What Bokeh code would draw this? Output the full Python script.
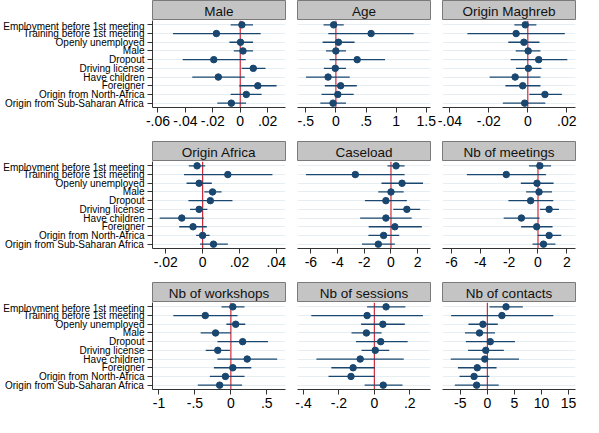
from bokeh.plotting import figure
from bokeh.models import Range1d, FactorRange, Span, FixedTicker
from bokeh.core.properties import value
from bokeh.layouts import row, column
from bokeh.embed import file_html
from bokeh.resources import INLINE

variables = ["Employment before 1st meeting", "Training before 1st meeting", "Openly unemployed",
             "Male", "Dropout", "Driving license", "Have children", "Foreigner",
             "Origin from North-Africa", "Origin from Sub-Saharan Africa"]

titles = ["Male", "Age", "Origin Maghreb", "Origin Africa", "Caseload", "Nb of meetings",
          "Nb of workshops", "Nb of sessions", "Nb of contacts"]

# point estimates and confidence bounds, one list per panel
male_coef = [0.0012, -0.0174, 0.0002, 0.0020, -0.0193, 0.0095, -0.0160, 0.0128, 0.0044, -0.0065]
male_lo   = [-0.0070, -0.0490, -0.0079, -0.0047, -0.0420, 0.0010, -0.0350, -0.0007, -0.0070, -0.0167]
male_hi   = [0.0093, 0.0149, 0.0093, 0.0093, 0.0040, 0.0184, 0.0033, 0.0265, 0.0156, 0.0042]

age_coef = [-0.037, 0.584, 0.042, 0.000, 0.353, -0.010, -0.130, 0.079, 0.032, -0.047]
age_lo   = [-0.205, -0.126, -0.220, -0.163, -0.105, -0.200, -0.495, -0.184, -0.237, -0.258]
age_hi   = [0.130, 1.290, 0.310, 0.168, 0.816, 0.168, 0.230, 0.347, 0.295, 0.168]

maghreb_coef = [-0.0013, -0.0060, -0.0020, 0.0002, 0.0056, 0.0003, -0.0065, -0.0026, 0.0088, -0.0016]
maghreb_lo   = [-0.0069, -0.0310, -0.0100, -0.0062, -0.0088, -0.0060, -0.0196, -0.0115, 0.0008, -0.0128]
maghreb_hi   = [0.0044, 0.0190, 0.0060, 0.0065, 0.0203, 0.0070, 0.0065, 0.0065, 0.0175, 0.0090]

africa_coef = [-0.0030, 0.0137, -0.0019, 0.0054, 0.0042, -0.0019, -0.0113, -0.0052, 0.0000, 0.0059]
africa_lo   = [-0.0075, -0.0101, -0.0087, 0.0009, -0.0077, -0.0068, -0.0233, -0.0127, -0.0035, -0.0014]
africa_hi   = [0.0014, 0.0379, 0.0050, 0.0103, 0.0162, 0.0026, 0.0007, 0.0023, 0.0038, 0.0137]

caseload_coef = [0.38, -2.67, 0.83, 0.00, -0.38, 1.19, -0.38, 0.29, -0.55, -0.95]
caseload_lo   = [-0.26, -6.36, -0.71, -0.95, -1.95, 0.17, -2.31, -1.67, -1.69, -2.17]
caseload_hi   = [1.02, 1.02, 2.40, 0.95, 1.19, 2.19, 1.55, 2.31, 0.62, 0.29]

meetings_coef = [0.13, -2.20, -0.07, 0.07, -0.51, 0.77, -1.15, -0.09, 0.77, 0.38]
meetings_lo   = [-0.62, -4.93, -1.19, -0.82, -2.05, 0.13, -2.38, -1.17, -0.02, -0.38]
meetings_hi   = [0.90, 0.55, 1.08, 0.97, 1.06, 1.45, 0.11, 1.01, 1.61, 1.21]

workshops_coef = [0.027, -0.356, 0.067, -0.213, 0.164, -0.182, 0.227, 0.027, -0.076, -0.156]
workshops_lo   = [-0.130, -0.800, -0.062, -0.420, -0.187, -0.350, -0.187, -0.236, -0.293, -0.460]
workshops_hi   = [0.190, 0.093, 0.200, 0.000, 0.516, -0.013, 0.644, 0.284, 0.190, 0.156]

sessions_coef = [0.066, -0.041, 0.048, -0.045, 0.036, 0.005, -0.080, -0.120, -0.132, 0.050]
sessions_lo   = [-0.041, -0.356, -0.075, -0.129, -0.104, -0.072, -0.327, -0.243, -0.259, -0.055]
sessions_hi   = [0.175, 0.274, 0.172, 0.041, 0.188, 0.084, 0.166, 0.002, 0.002, 0.159]

contacts_coef = [3.45, 2.69, -0.82, -1.46, 0.53, -0.29, -0.47, -1.87, -2.46, -1.99]
contacts_lo   = [0.41, -6.70, -3.50, -4.15, -3.98, -3.57, -6.78, -5.44, -5.15, -6.02]
contacts_hi   = [6.55, 12.20, 1.93, 1.40, 5.09, 3.04, 5.85, 1.70, 0.35, 2.10]

# axis extents and ticks
x_limits = [(-0.064, 0.033), (-0.637, 1.57), (-0.0438, 0.0245),
            (-0.0272, 0.045), (-7.0, 2.96), (-6.62, 2.6),
            (-1.09, 0.76), (-0.434, 0.317), (-8.3, 16.3)]
tick_values = [[-0.06, -0.04, -0.02, 0, 0.02], [-0.5, 0, 0.5, 1, 1.5], [-0.04, -0.02, 0, 0.02],
               [-0.02, 0, 0.02, 0.04], [-6, -4, -2, 0, 2], [-6, -4, -2, 0, 2],
               [-1, -0.5, 0, 0.5], [-0.4, -0.2, 0, 0.2], [-5, 0, 5, 10, 15]]
tick_labels = [["-.06", "-.04", "-.02", "0", ".02"], ["-.5", "0", ".5", "1", "1.5"], ["-.04", "-.02", "0", ".02"],
               ["-.02", "0", ".02", ".04"], ["-6", "-4", "-2", "0", "2"], ["-6", "-4", "-2", "0", "2"],
               ["-1", "-.5", "0", ".5"], ["-.4", "-.2", "0", ".2"], ["-5", "0", "5", "10", "15"]]

panels = [(male_coef, male_lo, male_hi), (age_coef, age_lo, age_hi), (maghreb_coef, maghreb_lo, maghreb_hi),
          (africa_coef, africa_lo, africa_hi), (caseload_coef, caseload_lo, caseload_hi),
          (meetings_coef, meetings_lo, meetings_hi), (workshops_coef, workshops_lo, workshops_hi),
          (sessions_coef, sessions_lo, sessions_hi), (contacts_coef, contacts_lo, contacts_hi)]

FONT = "Liberation Sans"
NAVY = "#1a476f"
RED = "#d02a3a"
GRID = "#e6eef1"

FRAME_W = 133
FRAME_H = 87
STRIP_H = 20
LEFT_LABELS = 152
SIDE = 6


def make_strip(title, ml, mr):
    s = figure(width=ml + FRAME_W + mr, height=STRIP_H, x_range=Range1d(0, 1), y_range=Range1d(0, 1),
               toolbar_location=None, output_backend="svg", x_axis_location=None, y_axis_location=None,
               min_border_left=ml, min_border_right=mr, min_border_top=0, min_border_bottom=0,
               background_fill_color="#c4c4c4", border_fill_color="white",
               outline_line_color="#7a7a7a", outline_line_width=1)
    s.grid.visible = False
    s.text(x=[0.5], y=[0.45], text=[title], text_align="center", text_baseline="middle",
           text_font=value(FONT), text_font_size="13.5px", text_font_style="normal",
           text_color="#111111")
    return s


def make_panel(i):
    r, c = divmod(i, 3)
    ml = LEFT_LABELS if c == 0 else SIDE
    mr = SIDE
    mb = 34 if r < 2 else 26
    coef, lo, hi = panels[i]
    x0, x1 = x_limits[i]
    p = figure(width=ml + FRAME_W + mr, height=FRAME_H + mb,
               x_range=Range1d(x0, x1), y_range=FactorRange(factors=list(reversed(variables))),
               toolbar_location=None, output_backend="svg",
               y_axis_location="left" if c == 0 else None,
               min_border_left=ml, min_border_right=mr, min_border_top=0, min_border_bottom=mb,
               outline_line_color=None, background_fill_color="white", border_fill_color="white")
    p.xgrid.visible = False
    p.ygrid.grid_line_color = GRID
    p.ygrid.grid_line_width = 1
    p.add_layout(Span(location=0, dimension="height", line_color=RED, line_width=1.2, level="underlay"))
    p.segment(x0=lo, y0=variables, x1=hi, y1=variables, line_color=NAVY, line_width=1.3)
    p.scatter(x=coef, y=variables, size=6.5, fill_color=NAVY, line_color=NAVY)

    xa = p.xaxis[0]
    xa.ticker = FixedTicker(ticks=tick_values[i])
    xa.major_label_overrides = {v: l for v, l in zip(tick_values[i], tick_labels[i])}
    xa.major_tick_out = 5
    xa.major_tick_in = 0
    xa.minor_tick_line_color = None
    xa.axis_line_color = "#333333"
    xa.major_tick_line_color = "#333333"
    xa.major_label_text_font = FONT
    xa.major_label_text_font_size = "14px"
    xa.major_label_text_color = "black"
    xa.major_label_standoff = 3

    if c == 0:
        ya = p.yaxis[0]
        ya.major_tick_out = 5
        ya.major_tick_in = 0
        ya.axis_line_color = "#333333"
        ya.major_tick_line_color = "#333333"
        ya.major_label_text_font = FONT
        ya.major_label_text_font_size = "10px"
        ya.major_label_text_color = "black"
        ya.major_label_standoff = 3
    strip = make_strip(titles[i], ml, mr)
    return column(strip, p, spacing=0)


rows = []
for r in range(3):
    rows.append(row(*[make_panel(r * 3 + c) for c in range(3)], spacing=0))
layout = column(*rows, spacing=0)

open("out.html", "w").write(file_html(layout, INLINE))
